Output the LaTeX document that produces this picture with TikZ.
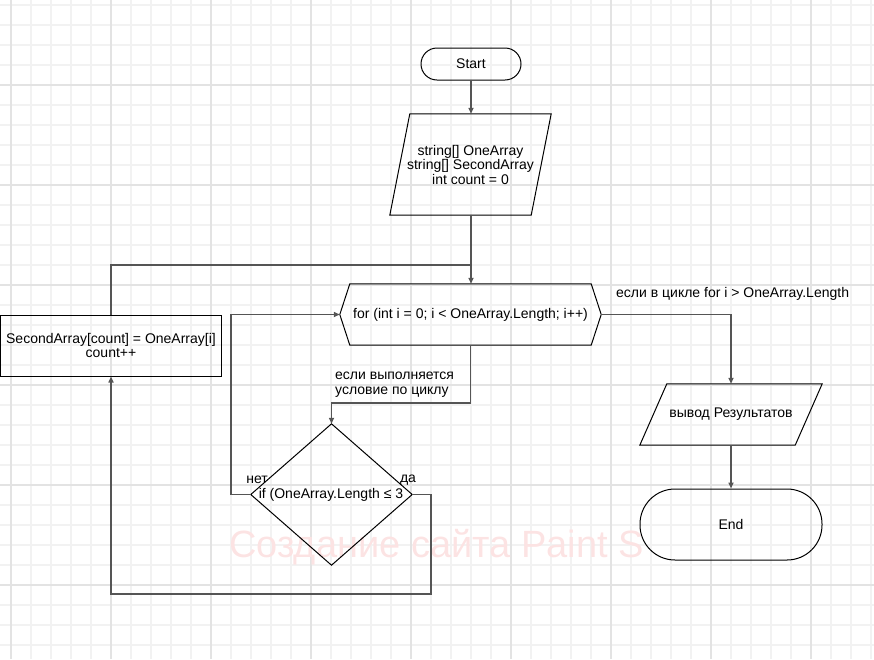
\documentclass[tikz,border=0pt]{standalone}
\usepackage{fontspec}
\setmainfont{Liberation Sans}
\usetikzlibrary{arrows.meta,calc}
\definecolor{gridminor}{HTML}{F2F2F2}
\definecolor{gridmajor}{HTML}{E3E3E3}
\definecolor{connc}{HTML}{555555}
\definecolor{wmark}{HTML}{FCE3E3}
\begin{document}
\begin{tikzpicture}[x=1pt,y=-1pt,
  every node/.style={font=\fontsize{14}{14.5}\selectfont, inner sep=0pt, align=center},
  box/.style={draw=none, minimum width=#1},
  outline/.style={draw=black, line width=1pt, line join=miter},
  conn/.style={draw=connc, line width=1.6pt, -{Triangle[length=6pt,width=5pt]}},
  plainconn/.style={draw=connc, line width=1.6pt},
  lbl/.style={font=\fontsize{14}{14.5}\selectfont}]
\useasboundingbox (0,0) rectangle (874,659);
% grid
\foreach \x in {11,31,...,871} \draw[gridminor, line width=1.2pt] (\x,0) -- (\x,659);
\foreach \y in {5,25,...,659} \draw[gridminor, line width=1.2pt] (0,\y) -- (874,\y);
\foreach \x in {11,111,...,811} \draw[gridmajor, line width=1.2pt] (\x,0) -- (\x,659);
\foreach \y in {85,185,...,659} \draw[gridmajor, line width=1.2pt] (0,\y) -- (874,\y);
% watermark
\node[anchor=west, text=wmark, font=\fontsize{38}{40}\selectfont] (wm) at (229,547) {Создание сайта Paint S};

% shapes
\node[draw=black, line width=1pt, rounded corners=16pt, minimum width=100pt, minimum height=32pt] (start) at (471,64) {Start};

\node[box=161pt, minimum height=101pt] (init) at (470.5,164.5) {string[] OneArray\\string[] SecondArray\\int count = 0};
\draw[outline] ($(init.north west)+(20,0)$) -- (init.north east) -- ($(init.south east)+(-20,0)$) -- (init.south west) -- cycle;

\node[box=261pt, minimum height=61pt] (loop) at (470.5,314.5) {for (int i = 0; i < OneArray.Length; i++)};
\draw[outline] (loop.west) -- ($(loop.north west)+(10,0)$) -- ($(loop.north east)+(-10,0)$) -- (loop.east) -- ($(loop.south east)+(-10,0)$) -- ($(loop.south west)+(10,0)$) -- cycle;

\node[draw=black, line width=1pt, minimum width=221pt, minimum height=61pt] (body) at (111,345.5) {SecondArray[count] = OneArray[i]\\count++};

\node[box=161pt, minimum height=141pt] (cond) at (331.5,494.5) {};
\draw[outline] (cond.north) -- (cond.east) -- (cond.south) -- (cond.west) -- cycle;
\node (condtext) at (331,494.5) {if (OneArray.Length ≤ 3};

\node[box=182pt, minimum height=61pt] (out) at (731,414.5) {вывод Результатов};
\draw[outline] ($(out.north west)+(27,0)$) -- (out.north east) -- ($(out.south east)+(-27,0)$) -- (out.south west) -- cycle;

\node[draw=black, line width=1pt, rounded corners=35pt, minimum width=182pt, minimum height=71pt] (end) at (731,524.5) {End};

% junctions
\coordinate (j1) at (471,265);
\coordinate (j2) at (331.5,403);
\coordinate (j3) at (231,494.5);
\coordinate (j4) at (431,494.5);
\coordinate (j5) at (431,594);

% connectors
\draw[conn] (start.south) -- (init.north -| start.south);
\draw[conn] (init.south -| j1) -- (loop.north -| j1);
\draw[plainconn] (body.north) |- (j1);
\draw[conn] (loop.east) -| (out.north);
\draw[conn] (out.south) -- (end.north);
\draw[conn] (loop.south) |- (j2) -- (cond.north);
\draw[conn] (cond.west) -- (j3) |- (loop.west);
\draw[conn] (cond.east) -- (j4) -- (j5) -| (body.south);

% labels
\node[lbl, anchor=west] (lout) at (616,294) {если в цикле for i > OneArray.Length};
\node[lbl, anchor=west, align=left] (lin) at (335,384.5) {если выполняется\\условие по циклу};
\node[lbl] (lno) at (257,480) {нет};
\node[lbl] (lyes) at (408,480) {да};
\end{tikzpicture}
\end{document}
